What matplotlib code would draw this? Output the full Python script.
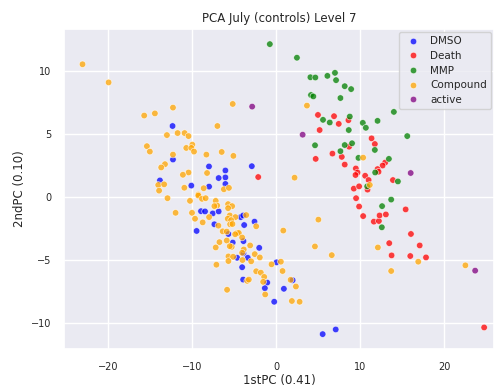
import matplotlib
matplotlib.use("Agg")
import matplotlib.pyplot as plt
import seaborn as sns
import pandas as pd

# PCA scores per control group (1st PC, 2nd PC)
dmso_x = [-12.3, -12.25, -7.97, -2.88, -6.02, -13.8, -6.02, -6.82, -10.07, -7.96, -6.02,
          -8.92, -8.44, -7.53, -6.82, -7.33, -4.2, -3.9, -2.56, -3.79, -9.44, -5.66,
          -5.15, -3.87, -2.0, -3.87, -4.63, -3.36, -4.03, 0.06, -3.91, -1.05, -1.33,
          -0.22, 1.97, 0.93, 5.54, 7.09]
dmso_y = [5.6, 2.94, 2.39, 2.41, 2.07, 1.28, 1.52, 1.47, 0.87, 0.79, 1.0,
          -1.16, -1.18, -1.34, -1.18, -2.2, -1.63, -1.5, -1.99, -2.26, -2.73, -2.97,
          -3.65, -3.54, -4.07, -4.51, -4.86, -4.86, -5.61, -5.22, -6.59, -6.83, -7.27,
          -8.35, -6.64, -7.32, -10.92, -10.55]

death_x = [-2.12, 9.24, 9.87, 10.87, 9.51, 9.87, 15.4, 10.35, 11.62, 12.22, 12.3, 13.05,
           16.03, 13.45, 17.07, 13.73, 15.95, 17.82, 24.73, 4.98, 6.89, 7.45, 8.6, 5.18,
           11.35, 11.74, 8.68, 6.7, 4.71, 7.81, 8.16, 12.97, 12.66, 9.48, 12.06, 12.18,
           9.68, 9.44, 10.59, 11.0, 13.89]
death_y = [1.55, 0.63, 0.81, 0.55, -0.13, -0.79, -1.02, -1.55, -1.99, -1.94, -1.5, -1.42,
           -2.97, -3.7, -3.88, -4.67, -4.72, -4.83, -10.39, 6.48, 6.38, 5.77, 6.06, 5.28,
           4.62, 4.17, 3.96, 3.41, 2.99, 3.15, 2.54, 2.7, 2.46, 2.23, 2.18, 1.97,
           1.91, 1.71, 1.65, 1.31, 1.31]

mmp_x = [-0.74, 10.83, 13.68, 12.6, 12.57, 2.48, 4.08, 4.67, 6.1, 7.0, 7.13, 8.16, 8.92,
         4.15, 4.43, 7.65, 14.0, 15.59, 8.76, 5.58, 6.38, 8.64, 10.31, 10.67, 12.06,
         4.63, 8.16, 9.03, 7.65, 11.74, 9.79, 13.41, 11.78, 14.48]
mmp_y = [12.1, 0.81, -0.24, -0.76, -2.44, 11.02, 9.47, 9.45, 9.58, 9.82, 9.24, 8.76, 8.53,
         8.06, 7.95, 7.82, 6.72, 4.8, 6.35, 6.09, 5.88, 5.28, 5.85, 5.46, 6.01,
         4.07, 4.09, 4.23, 3.6, 3.7, 3.07, 2.99, 1.91, 1.2]

compound_x = [-23.0, -19.9, -12.25, -15.67, -14.4, -5.15, -6.97, -12.97, -11.7, -10.87,
              -10.4, -15.35, -15.0, -9.95, -10.67, -10.07, -9.75, -12.25, -8.28, -6.46,
              -5.07, -13.2, -13.65, -10.4, -11.07, -8.2, -14.0, -13.3, -10.9, -8.6, -6.2,
              -5.6, -9.24, -13.9, -12.9, -10.23, -9.24, -8.8, -8.37, -7.17, -7.0, -7.33,
              -5.7, -5.22, -5.7, -11.94, -9.99, -7.96, -9.63, -8.72, -6.85, -5.5, -4.83,
              -5.74, -5.34, -3.55, -2.36, -5.46, -5.18, -6.34, -5.86, -4.63, -4.43, -4.86,
              -4.03, -5.86, -6.73, -7.17, -5.27, -5.5, -3.08, -3.84, -4.03, -5.66, -5.1,
              -3.99, -2.53, -1.93, -2.96, -5.66, -7.09, -0.54, -2.36, -1.81, -1.41, -3.43,
              -3.24, -1.53, -1.29, -5.82, 5.03, 0.86, 4.62, 6.62, 12.1, 16.9, 13.68, 22.5,
              0.57, 0.77, 1.73, 2.36, 1.88, 2.8, 3.67, 10.35, 2.2, 11.14]
compound_y = [10.5, 9.06, 7.06, 6.43, 6.6, 7.35, 5.6, 4.88, 5.04, 5.04,
              4.8, 4.0, 3.57, 4.12, 3.86, 3.86, 3.57, 3.33, 3.33, 3.54,
              3.23, 2.57, 2.31, 1.91, 1.73, 1.87, 0.92, 0.97, 0.7, 0.66, 0.58,
              0.69, 0.16, 0.47, -0.13, -0.34, 0.08, -0.18, -0.13, -0.34, -0.71, -0.76,
              -0.6, -0.76, -0.92, -1.29, -1.29, -1.63, -1.76, -2.05, -2.31, -1.5, -1.63,
              -1.76, -1.87, -1.47, -2.36, -2.2, -2.18, -2.76, -2.78, -2.89, -2.89, -2.99,
              -3.25, -3.49, -3.62, -4.04, -3.99, -3.94, -3.88, -4.2, -4.46, -4.75, -4.78,
              -5.04, -4.57, -4.83, -5.14, -5.12, -5.41, -5.38, -5.93, -6.04, -6.38, -6.69,
              -6.59, -6.77, -7.77, -7.4, -1.83, -2.7, -3.96, -4.65, -4.04, -5.17, -5.91, -5.46,
              -5.17, -5.91, -6.61, -7.14, -8.29, -8.35, 7.22, 3.09, 1.5, 0.92]

active_x = [-2.84, 23.66, 3.16, 16.0]
active_y = [7.14, -5.88, 4.91, 1.87]

groups = ["DMSO", "Death", "MMP", "Compound", "active"]
group_colors = ["blue", "red", "green", "orange", "purple"]

frames = []
for name, xs, ys in [("DMSO", dmso_x, dmso_y), ("Death", death_x, death_y),
                     ("MMP", mmp_x, mmp_y), ("Compound", compound_x, compound_y),
                     ("active", active_x, active_y)]:
    frames.append(pd.DataFrame({"PC1": xs, "PC2": ys, "group": name}))
df = pd.concat(frames, ignore_index=True)

sns.set_theme(style="darkgrid")
plt.rcParams["font.family"] = ["DejaVu Sans"]

fig = plt.figure(figsize=(4.95, 3.91), dpi=100)
ax = fig.add_axes([64 / 495, 1 - 349 / 391, (494 - 64) / 495, (349 - 29) / 391])

sns.scatterplot(data=df, x="PC1", y="PC2", hue="group", hue_order=groups,
                palette=dict(zip(groups, group_colors)), s=22, alpha=0.75,
                edgecolor="white", linewidth=0.5, ax=ax)

ax.set_xlim(-25.2, 25.9)
ax.set_ylim(-12.1, 13.3)
ax.set_xticks([-20, -10, 0, 10, 20])
ax.set_yticks([-10, -5, 0, 5, 10])
ax.tick_params(labelsize=7, pad=3)
ax.set_xlabel("1stPC (0.41)", fontsize=8.5, labelpad=2)
ax.set_ylabel("2ndPC (0.10)", fontsize=8.5, labelpad=4)
ax.set_title("PCA July (controls) Level 7", fontsize=8.5, pad=5)

leg = ax.legend(loc="upper right", fontsize=7.5, frameon=True, borderaxespad=0.3,
                handletextpad=0.6, labelspacing=0.45, markerscale=1.0)
leg.get_frame().set_facecolor("#eaeaf2")
leg.get_frame().set_edgecolor("#cccccc")

fig.savefig("out.png", dpi=100)
